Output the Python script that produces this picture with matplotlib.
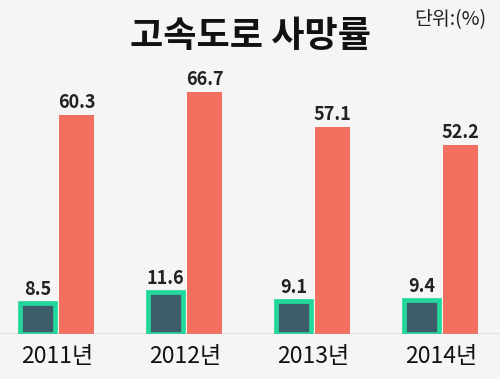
import matplotlib.pyplot as plt
import numpy as np

plt.rcParams['font.family'] = ['Noto Sans CJK KR', 'DejaVu Sans']

years = ['2011년', '2012년', '2013년', '2014년']
small_vals = [8.5, 11.6, 9.1, 9.4]
red_vals = [60.3, 66.7, 57.1, 52.2]

fig = plt.figure(figsize=(5, 3.79), dpi=100)
fig.patch.set_facecolor('#f5f5f5')
ax = fig.add_axes([0, 45 / 379, 1, 284 / 379])
ax.set_facecolor('#f5f5f5')

x = np.arange(len(years))
w = 0.28
off = 0.152
ax.bar(x - off, small_vals, w, color='#3e5c69', edgecolor='#22d79b', linewidth=3.4, zorder=3)
ax.bar(x + off, red_vals, w, color='#f36f5f', zorder=2)

for i in range(len(years)):
    ax.text(x[i] - off, small_vals[i] + 1.2, f'{small_vals[i]}', ha='center', va='bottom',
            fontsize=13, fontweight='semibold', color='#222222')
    ax.text(x[i] + off, red_vals[i] + 0.8, f'{red_vals[i]}', ha='center', va='bottom',
            fontsize=13, fontweight='semibold', color='#222222')

ax.set_xlim(-57 / 128, 443 / 128)
ax.set_ylim(0, 284 / 3.63)
ax.axhline(0, color='#999999', linewidth=1, zorder=4)
ax.set_yticks([])
ax.set_xticks(x)
ax.set_xticklabels(years, fontsize=16.5, color='#111111')
ax.tick_params(axis='x', length=0, pad=8)
for s in ax.spines.values():
    s.set_visible(False)

fig.text(0.5, 1 - 37 / 379, '고속도로 사망률', ha='center', va='center', fontsize=26,
         fontweight='bold', color='#111111')
fig.text(0.972, 1 - 20 / 379, '단위:(%)', ha='right', va='center', fontsize=14, color='#222222')

fig.savefig('out.png', dpi=100, facecolor=fig.get_facecolor())
